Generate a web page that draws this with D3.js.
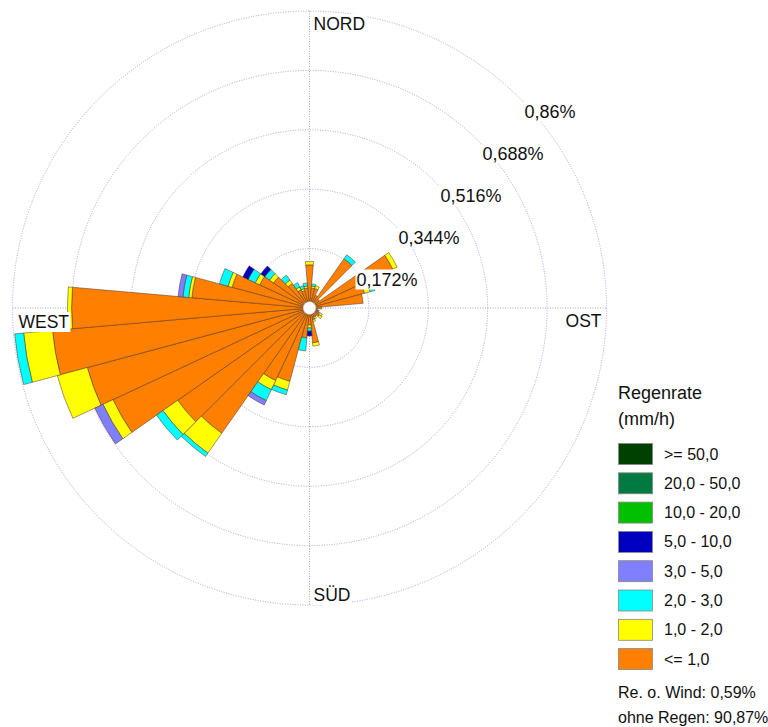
<!DOCTYPE html>
<html>
<head>
<meta charset="utf-8">
<script src="https://cdn.jsdelivr.net/npm/d3@7"></script>
<style>
html,body{margin:0;padding:0;background:#fff;}
svg{display:block;font-family:"Liberation Sans",Arial,sans-serif;}
</style>
</head>
<body>
<svg id="chart" width="768" height="727"></svg>
<script>
// ---- data (percent of time) ----
const directions = [0,10,20,30,40,50,60,70,80,90,100,110,120,130,140,150,160,170,180,190,200,210,220,230,240,250,260,270,280,290,300,310,320,330,340,350];
const classes = [">= 50,0","20,0 - 50,0","10,0 - 20,0","5,0 - 10,0","3,0 - 5,0","2,0 - 3,0","1,0 - 2,0","<= 1,0"];
const classColors = ["#004000","#007a40","#00c000","#0000c0","#8080ff","#00ffff","#ffff00","#ff8000"];
const rateLe1   = [0.125,0.058,0.058,0.041,0.174,0.035,0.266,0.165,0.156,0.035,0.023,0.023,0.032,0.035,0.029,0.029,0.035,0.101,0.049,0.087,0.220,0.232,0.443,0.466,0.628,0.666,0.747,0.689,0.342,0.232,0.159,0.127,0.087,0.058,0.052,0.058];
const rate1to2  = [0.010,0.006,0.009,0,0,0,0.014,0.017,0,0,0,0,0.009,0.009,0,0.006,0.006,0.010,0.009,0,0.026,0.029,0.070,0.052,0.032,0.090,0.084,0.012,0.009,0.012,0.014,0.014,0.012,0.009,0.006,0.006];
const rate2to3  = [0,0.006,0,0,0.014,0,0,0.014,0,0,0,0,0,0,0,0,0,0,0.009,0.038,0.014,0.035,0.012,0.023,0,0,0.026,0,0.017,0.026,0.023,0.017,0.017,0.014,0.009,0.009];
const rate3to5  = [0,0,0,0,0,0,0,0,0,0,0,0.006,0,0,0,0,0,0,0,0,0,0.014,0,0,0.026,0,0,0,0.014,0,0,0,0,0,0,0];
const rate5to10 = [0,0,0,0,0,0,0,0,0,0,0,0,0,0,0,0,0,0,0.014,0,0,0,0,0,0,0,0,0,0,0,0.017,0.014,0,0,0,0];
const rate10to20= new Array(36).fill(0);
const rate20to50= new Array(36).fill(0);
const rateGe50  = new Array(36).fill(0);
const radialTicks = [0.172,0.344,0.516,0.688,0.86];
const radialTickLabels = ["0,172%","0,344%","0,516%","0,688%","0,86%"];
const compassLabels = ["NORD","OST","SÜD","WEST"];
const legendTitle = ["Regenrate","(mm/h)"];
const footnotes = ["Re. o. Wind: 0,59%","ohne Regen: 90,87%"];

// ---- layout ----
const svg = d3.select("#chart");
const cx = 309.5, cy = 308, R = 297;
const rScale = d3.scaleLinear().domain([0, 0.86]).range([0, R]);
const g = svg.append("g").attr("transform", `translate(${cx},${cy})`);
const gridColor = "#a4a4dc";

// grid
g.selectAll("circle.grid").data(radialTicks).enter().append("circle")
  .attr("r", d => rScale(d)).attr("fill","none")
  .attr("stroke", gridColor).attr("stroke-width",1).attr("stroke-dasharray","1,1.5");
g.append("line").attr("x1",0).attr("x2",0).attr("y1",-R).attr("y2",R)
  .attr("stroke",gridColor).attr("stroke-dasharray","1,1.5");
g.append("line").attr("x1",-R).attr("x2",R).attr("y1",0).attr("y2",0)
  .attr("stroke",gridColor).attr("stroke-dasharray","1,1.5");

// stacked wedges
const keys = ["le1","r1","r2","r3","r5","r10","r20","r50"];
const keyColor = {le1:"#ff8000",r1:"#ffff00",r2:"#00ffff",r3:"#8080ff",r5:"#0000c0",r10:"#00c000",r20:"#007a40",r50:"#004000"};
const table = directions.map((dir,i) => ({dir, le1:rateLe1[i], r1:rate1to2[i], r2:rate2to3[i], r3:rate3to5[i], r5:rate5to10[i], r10:rate10to20[i], r20:rate20to50[i], r50:rateGe50[i]}));
const stacked = d3.stack().keys(keys)(table);
const rad = d => d * Math.PI / 180;
const arc = d3.arc()
  .innerRadius(d => rScale(d[0]))
  .outerRadius(d => rScale(d[1]))
  .startAngle(d => rad(d.data.dir - 5))
  .endAngle(d => rad(d.data.dir + 5));
stacked.forEach(layer => {
  g.append("g").selectAll("path").data(layer.filter(d => d[1] - d[0] > 0)).enter().append("path")
    .attr("d", arc).attr("fill", keyColor[layer.key])
    .attr("stroke", "#4a3020").attr("stroke-width", 0.5).attr("stroke-linejoin","round");
});
// hub
g.append("circle").attr("r",6.5).attr("fill","#fff").attr("stroke","#999").attr("stroke-width",0.6);

function labelWithBg(parent, x, y, text, size, anchor) {
  const grp = parent.append("g");
  const rect = grp.append("rect").attr("fill","#fff");
  const t = grp.append("text").attr("x",x).attr("y",y).attr("font-size",size)
    .attr("text-anchor",anchor||"start").attr("fill","#111").text(text);
  const b = t.node().getBBox();
  rect.attr("x",b.x-1).attr("y",b.y).attr("width",b.width+2).attr("height",b.height);
  return grp;
}

// radial tick labels along 45°
radialTicks.forEach((v,i) => {
  const r = rScale(v) * Math.SQRT1_2;
  labelWithBg(g, r + 5, -r + 19.5, radialTickLabels[i], 18, "start");
});

// compass labels
labelWithBg(g, 4, -R + 19, compassLabels[0], 17.5, "start");
labelWithBg(g, R - 5, 19, compassLabels[1], 17.5, "end");
labelWithBg(g, 4, R - 4, compassLabels[2], 17.5, "start");
labelWithBg(g, -R + 6, 20, compassLabels[3], 17.5, "start");

// legend
const lg = svg.append("g").attr("transform","translate(618,0)");
lg.append("text").attr("x",0).attr("y",399).attr("font-size",18).attr("fill","#111").text(legendTitle[0]);
lg.append("text").attr("x",0).attr("y",425).attr("font-size",18).attr("fill","#111").text(legendTitle[1]);
const rowY = d3.scaleLinear().domain([0,1]).range([443, 472.3]);
classes.forEach((c,i) => {
  lg.append("rect").attr("x",0.5).attr("y",rowY(i)+0.5).attr("width",34).attr("height",21)
    .attr("fill",classColors[i]).attr("stroke","#888").attr("stroke-width",0.8);
  lg.append("text").attr("x",46).attr("y",rowY(i)+16.5).attr("font-size",16).attr("fill","#111").text(c);
});
lg.append("text").attr("x",0).attr("y",698).attr("font-size",16).attr("fill","#111").text(footnotes[0]);
lg.append("text").attr("x",0).attr("y",723).attr("font-size",16).attr("fill","#111").text(footnotes[1]);
</script>
</body>
</html>
